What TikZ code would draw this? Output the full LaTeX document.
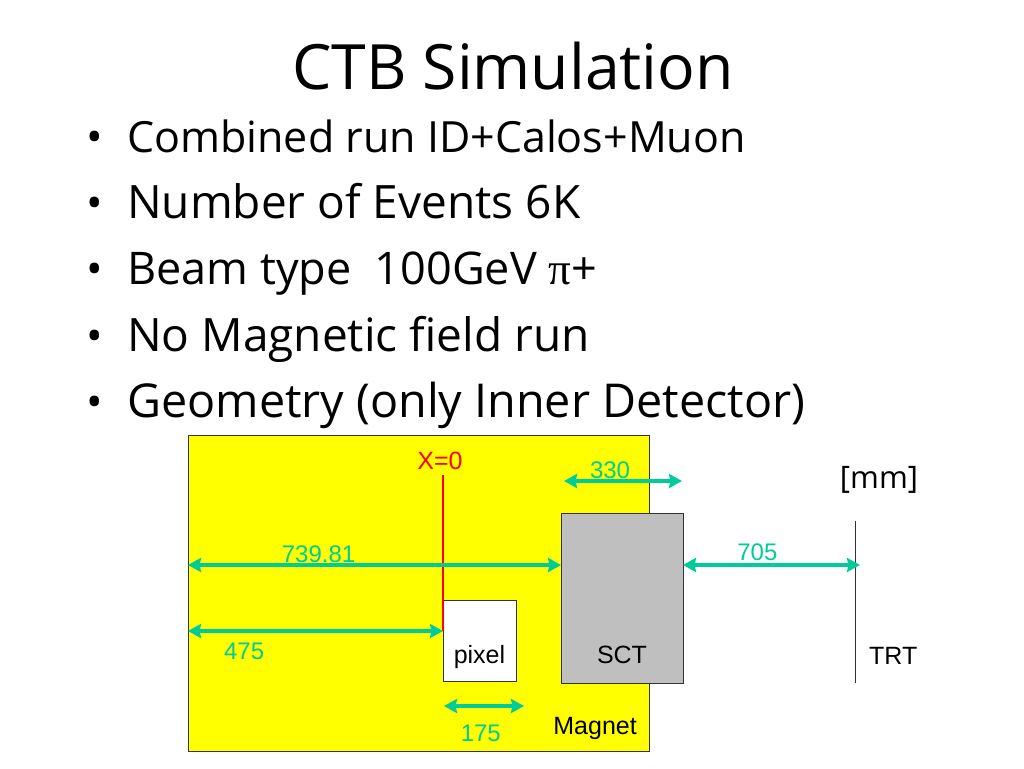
\documentclass[tikz,border=0pt]{standalone}
\usepackage{fontspec}
\setmainfont{Open Sans}
\newfontfamily\labelfont{Liberation Sans}
\newfontfamily\symbolfont{Liberation Serif}
\definecolor{gaugegreen}{RGB}{0, 204, 153}
\definecolor{magnetyellow}{RGB}{255, 255, 0}
\definecolor{markerred}{RGB}{255, 0, 0}
\usetikzlibrary{positioning,arrows.meta}

\begin{document}
\begin{tikzpicture}[
            x=1pt, y=-1pt,
            slidetitle/.style={inner sep=0pt, font=\fontsize{62.5}{66}\selectfont},
            bullettext/.style={inner sep=0pt, text height=50pt, text depth=16pt, font=\fontsize{46}{50}\selectfont},
            bulletmark/.style={inner sep=0pt, text height=50pt, text depth=16pt, font=\fontsize{44}{50}\selectfont},
            volume/.style={rectangle, draw=black!80, inner sep=0pt, outer sep=0pt},
            partlabel/.style={inner sep=0pt, font=\labelfont\fontsize{25}{30}\selectfont},
            gaugelabel/.style={inner sep=0pt, text=gaugegreen, font=\labelfont\fontsize{24}{28}\selectfont},
            gauge/.style={{Stealth[length=13pt,width=14pt,inset=1.5pt]}-{Stealth[length=13pt,width=14pt,inset=1.5pt]},
                draw=gaugegreen, line width=4pt},
        ]
            \useasboundingbox (0,0) rectangle (1024,768);

            % title and bullets
            \node [slidetitle] (title) at (513,66) {CTB Simulation};

            \node [bullettext, anchor=base west, font=\fontsize{43}{50}\selectfont] (line1) at (127,152) {Combined run ID+Calos+Muon};
            \node [bullettext, below=0pt of line1.south west, anchor=north west] (line2) {Number of Events 6K};
            \node [bullettext, below=0pt of line2.south west, anchor=north west, font=\fontsize{45}{50}\selectfont] (line3) {Beam type\ \ 100GeV {\symbolfont π}+};
            \node [bullettext, below=0pt of line3.south west, anchor=north west] (line4) {No Magnetic field run};
            \node [bullettext, below=0pt of line4.south west, anchor=north west, font=\fontsize{46.7}{50}\selectfont] (line5) {Geometry (only Inner Detector)};

            \node [bulletmark, left=24pt of line1] (mark1) {•};
            \node [bulletmark, left=24pt of line2] (mark2) {•};
            \node [bulletmark, left=24pt of line3] (mark3) {•};
            \node [bulletmark, left=24pt of line4] (mark4) {•};
            \node [bulletmark, left=24pt of line5] (mark5) {•};

            % detector boxes
            \node [volume, fill=magnetyellow, minimum width=461pt, minimum height=316pt] (magnet) at (418.5,593) {};
            \node [volume, fill=black!25, minimum width=122pt, minimum height=170pt] (sct) at (622,598) {};
            \node [volume, fill=white, minimum width=73pt, minimum height=81pt] (pixel) at (479.5,640.5) {};

            \node [partlabel, above=12pt of pixel.south] (pixel-name) {pixel};
            \node [partlabel, above=19pt of sct.south] (sct-name) {SCT};
            \node [partlabel, above left=11pt and 12pt of magnet.south east] (magnet-name) {Magnet};

            \coordinate (trt-top) at (855,521);
            \coordinate (trt-bottom) at (855,683);
            \draw [black!80] (trt-top) -- (trt-bottom);
            \node [partlabel, right=14pt of trt-bottom, anchor=base west, yshift=19pt] (trt-name) {TRT};

            \node [inner sep=0pt, font=\fontsize{31}{34}\selectfont] (unit) at (879,480) {[mm]};

            % x=0 marker
            \node [inner sep=0pt, text=markerred, font=\labelfont\fontsize{25}{30}\selectfont] (xzero) at (440,461) {X=0};
            \coordinate (end475) at (443,631);
            \coordinate (xline-top) at (443,475);
            \draw [draw=markerred, line width=1.1pt] (xline-top) -- (end475);

            % gauges
            \coordinate (start475) at (188,631);
            \draw [gauge] (start475) -- (end475) node [gaugelabel, below=10pt, pos=0.22] (label475) {475};

            \coordinate (start739) at (188,565);
            \coordinate (end739) at (561,565);
            \draw [gauge] (start739) -- (end739) node [gaugelabel, above=0pt, pos=0.35] (label739) {739.81};

            \coordinate (start330) at (564,481);
            \coordinate (end330) at (682,481);
            \draw [gauge] (start330) -- (end330) node [gaugelabel, above=0pt, pos=0.39] (label330) {330};

            \coordinate (start705) at (683,565);
            \coordinate (end705) at (860,565);
            \draw [gauge] (start705) -- (end705) node [gaugelabel, above=2pt, pos=0.42] (label705) {705};

            \coordinate (start175) at (444,706);
            \coordinate (end175) at (524,706);
            \draw [gauge] (start175) -- (end175) node [gaugelabel, below=17pt, pos=0.46] (label175) {175};

        \end{tikzpicture}
\end{document}
